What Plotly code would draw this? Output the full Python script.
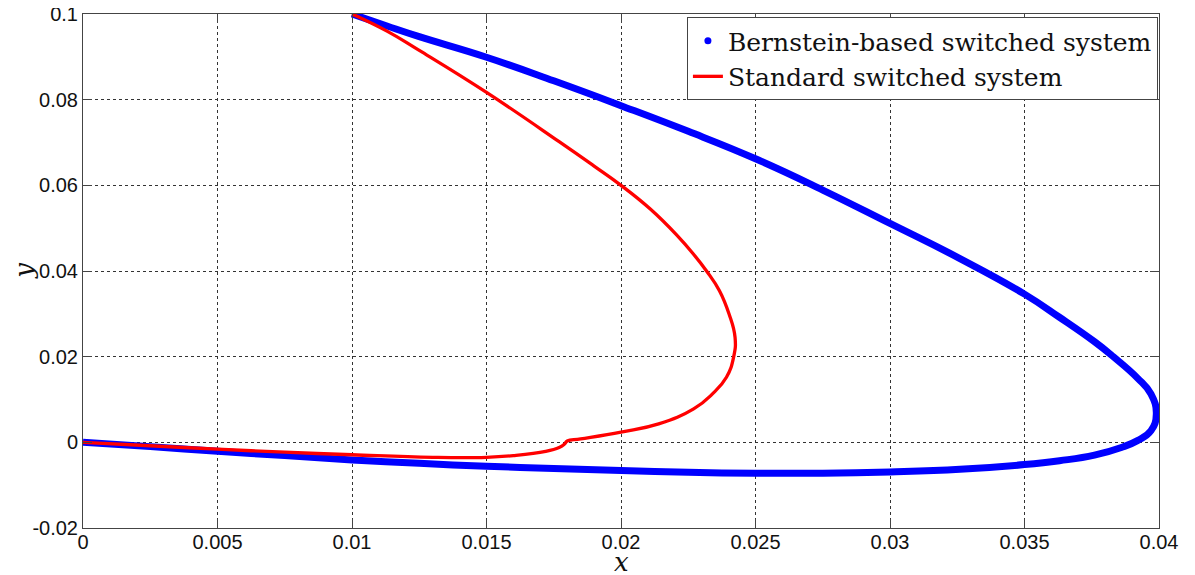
import plotly.graph_objects as go

# Bernstein-based switched system trajectory (x, y)
bern_x = [0.0100, 0.0113, 0.0125, 0.0150, 0.0175, 0.0200, 0.0225, 0.0250, 0.0275, 0.0300,
          0.0326, 0.0350, 0.0363, 0.0376, 0.0383, 0.0392, 0.0397, 0.0399, 0.0397, 0.0392,
          0.0386, 0.0376, 0.0363, 0.0350, 0.0326, 0.0300, 0.0275, 0.0250, 0.0225, 0.0200,
          0.0175, 0.0150, 0.0125, 0.0100, 0.0075, 0.0050, 0.0025, 0.0000]
bern_y = [0.1000, 0.0972, 0.0947, 0.0899, 0.0844, 0.0786, 0.0726, 0.0662, 0.0589, 0.0511,
          0.0429, 0.0346, 0.0292, 0.0235, 0.0200, 0.0150, 0.0113, 0.0066, 0.0027, 0.0004,
          -0.0012, -0.0030, -0.0043, -0.0052, -0.0063, -0.0069, -0.0072, -0.0072, -0.0070, -0.0066,
          -0.0061, -0.0056, -0.0049, -0.0041, -0.0031, -0.0021, -0.0010, 0.0000]

# Standard switched system trajectory (x, y)
std_x = [0.0100, 0.0113, 0.0125, 0.0150, 0.0177, 0.0190, 0.0200, 0.0211, 0.0221, 0.0227,
         0.02318, 0.02366, 0.02402, 0.02424, 0.02419, 0.02392, 0.0234, 0.0227, 0.0214, 0.0200,
         0.0185, 0.0180, 0.0179, 0.0177, 0.0172, 0.0160, 0.0150, 0.0130, 0.0100, 0.0075,
         0.0050, 0.0025, 0.0000]
std_y = [0.1000, 0.0960, 0.0915, 0.0817, 0.0702, 0.0645, 0.0600, 0.0544, 0.0482, 0.0439,
         0.0400, 0.0354, 0.0299, 0.0245, 0.0200, 0.0152, 0.0113, 0.0078, 0.0043, 0.0024,
         0.0008, 0.0003, -0.0004, -0.0012, -0.0021, -0.0031, -0.0035, -0.0035, -0.0029, -0.0023,
         -0.0016, -0.0008, 0.0000]

x_ticks = [0, 0.005, 0.01, 0.015, 0.02, 0.025, 0.03, 0.035, 0.04]
x_labels = ["0", "0.005", "0.01", "0.015", "0.02", "0.025", "0.03", "0.035", "0.04"]
y_ticks = [-0.02, 0, 0.02, 0.04, 0.06, 0.08, 0.1]
y_labels = ["-0.02", "0", "0.02", "0.04", "0.06", "0.08", "0.1"]

fig = go.Figure()

fig.add_trace(go.Scatter(x=bern_x, y=bern_y, mode="lines",
                         line=dict(color="#0000ff", width=7, shape="spline", smoothing=1.3),
                         showlegend=False, hoverinfo="skip"))
fig.add_trace(go.Scatter(x=[None], y=[None], mode="markers",
                         marker=dict(color="#0000ff", size=7),
                         name="Bernstein-based switched system"))
fig.add_trace(go.Scatter(x=std_x, y=std_y, mode="lines",
                         line=dict(color="#ff0000", width=3.3, shape="spline", smoothing=1.3),
                         name="Standard switched system"))

axis_common = dict(
    showline=True, linecolor="#444", linewidth=1, mirror="ticks",
    ticks="inside", ticklen=9, tickcolor="#444",
    showgrid=True, gridcolor="#333", griddash="dot", gridwidth=1,
    zeroline=False, automargin=False, ticklabeloverflow="allow",
    tickfont=dict(family="Liberation Sans, Arial", size=20, color="#111"),
)

fig.update_xaxes(range=[0, 0.04], tickvals=x_ticks, ticktext=x_labels,
                 ticklabelstandoff=-4, **axis_common)
fig.update_yaxes(range=[-0.02, 0.1], tickvals=y_ticks, ticktext=y_labels, **axis_common)

fig.add_annotation(text="<i>x</i>", xref="paper", yref="paper", x=0.5, y=-0.066,
                   xanchor="center", yanchor="middle", showarrow=False,
                   font=dict(family="DejaVu Serif", size=26, color="#111"))
fig.add_annotation(text="<i>y</i>", xref="paper", yref="paper", x=-0.055, y=0.5,
                   xanchor="center", yanchor="middle", showarrow=False, textangle=-90,
                   font=dict(family="DejaVu Serif", size=26, color="#111"))

fig.update_layout(
    width=1195, height=575,
    margin=dict(l=75, r=44, t=6, b=55),
    paper_bgcolor="white", plot_bgcolor="white",
    legend=dict(x=0.999, y=0.994, xanchor="right", yanchor="top",
                bgcolor="white", bordercolor="#444", borderwidth=1,
                font=dict(family="DejaVu Serif", size=25, color="#111"),
                tracegroupgap=0, itemwidth=30),
)

fig.write_html("out.html")
